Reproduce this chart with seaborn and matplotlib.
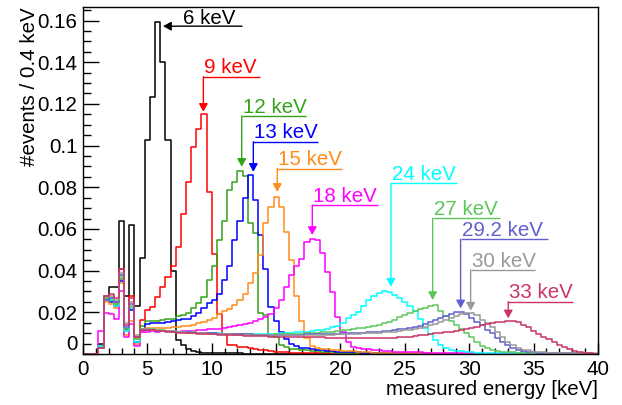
import numpy as np
import matplotlib
matplotlib.use("Agg")
import matplotlib.pyplot as plt
import seaborn as sns
from matplotlib.ticker import MultipleLocator, FixedLocator, FixedFormatter

# ---------------- data (bin contents, 0.4 keV bins from 0 to 40 keV) ----------------
bin_edges = [round(0.4 * i, 1) for i in range(101)]

h6 = [0, 0, 0, 0.005, 0.028, 0.032, 0.032, 0.064, 0.028, 0.062, 0.023, 0.046,
      0.1026, 0.1234, 0.1594, 0.140, 0.1026, 0.040, 0.0067, 0.0043, 0.0025, 0.0013, 0.0008, 0.0005,
      0.0004, 0.0003, 0.0003, 0.0003, 0.0003, 0.0003, 0.0003, 0.0002, 0.0002, 0.0002, 0.0002, 0.0002] + [0] * 64

h9 = [0, 0, 0, 0.004, 0.026, 0.026, 0.025, 0.041, 0.012, 0.028, 0.006, 0.0163,
      0.021, 0.0227, 0.0275, 0.032, 0.037, 0.042, 0.0515, 0.067, 0.0826, 0.0994, 0.108, 0.115,
      0.0777, 0.048, 0.019, 0.0095, 0.0045, 0.0042, 0.0035, 0.0033, 0.0027, 0.0025, 0.0018, 0.0017,
      0.0015, 0.0012, 0.001, 0.0009, 0.0007, 0.0006, 0.0005, 0.0004, 0.0003, 0.0003, 0.0003, 0.0003,
      0.0002, 0.0002, 0.0002, 0.0002, 0.0002, 0.0001] + [0] * 46

h12 = [0, 0, 0, 0.004, 0.027, 0.026, 0.024, 0.036, 0.011, 0.022, 0.007, 0.0135,
       0.0158, 0.016, 0.016, 0.0163, 0.0167, 0.017, 0.018, 0.0188, 0.0197, 0.022, 0.0245, 0.0275,
       0.0355, 0.042, 0.0547, 0.064, 0.0787, 0.0826, 0.0878, 0.0854, 0.063, 0.058, 0.0195, 0.0185,
       0.0085, 0.0082, 0.0045, 0.0032, 0.0026, 0.0024, 0.002, 0.0018, 0.0015, 0.0013, 0.0011, 0.001,
       0.0008, 0.0007, 0.0005, 0.0005, 0.0005, 0.0003, 0.0003, 0.0003, 0.0003, 0.0002, 0.0002, 0.0002,
       0.0002] + [0] * 39

h13 = [0, 0, 0, 0.004, 0.026, 0.025, 0.023, 0.035, 0.012, 0.021, 0.006, 0.012,
       0.0145, 0.015, 0.0148, 0.015, 0.0155, 0.016, 0.0165, 0.0168, 0.017, 0.018, 0.0197, 0.022,
       0.0245, 0.026, 0.029, 0.0355, 0.042, 0.0547, 0.064, 0.0748, 0.0858, 0.074, 0.057, 0.041,
       0.0227, 0.016, 0.0107, 0.007, 0.005, 0.004, 0.003, 0.0027, 0.0024, 0.002, 0.0018, 0.0015,
       0.0013, 0.0011, 0.001, 0.0008, 0.0008, 0.0008, 0.0005, 0.0005, 0.0005, 0.0005, 0.0003, 0.0003,
       0.0003, 0.0003, 0.0003, 0.0002, 0.0002, 0.0002, 0.0002] + [0] * 33

h15 = [0, 0, 0, 0.004, 0.025, 0.024, 0.022, 0.034, 0.009, 0.016, 0.005, 0.0105,
       0.0125, 0.0123, 0.0125, 0.0127, 0.0127, 0.013, 0.0132, 0.0133, 0.0135, 0.014, 0.0148, 0.0155,
       0.0165, 0.0175, 0.019, 0.0205, 0.0215, 0.0235, 0.026, 0.029, 0.034, 0.039, 0.0475, 0.063,
       0.0707, 0.0755, 0.0707, 0.0587, 0.045, 0.028, 0.016, 0.0075, 0.004, 0.003, 0.0025, 0.0022,
       0.002, 0.0018, 0.0016, 0.0015, 0.0013, 0.0012, 0.001, 0.0009, 0.0007, 0.0007, 0.0007, 0.0005,
       0.0005, 0.0005, 0.0005, 0.0003, 0.0003, 0.0003, 0.0003, 0.0003, 0.0002, 0.0002, 0.0002, 0.0002,
       0.0002] + [0] * 27

h18 = [0, 0, 0, 0.011, 0.0195, 0.019, 0.017, 0.030, 0.008, 0.0145, 0.004, 0.0107,
       0.0107, 0.011, 0.0108, 0.011, 0.0112, 0.011, 0.0108, 0.011, 0.011, 0.0112, 0.0115, 0.0115,
       0.0118, 0.012, 0.0122, 0.0127, 0.0131, 0.0135, 0.0139, 0.0144, 0.015, 0.0158, 0.0166, 0.0178,
       0.0193, 0.0222, 0.026, 0.032, 0.038, 0.042, 0.0454, 0.0539, 0.055, 0.0546, 0.0483, 0.0395,
       0.0299, 0.0179, 0.0107, 0.0059, 0.0035, 0.0028, 0.0025, 0.0022, 0.002, 0.0018, 0.0016, 0.0014,
       0.0012, 0.0011, 0.001, 0.0008, 0.0008, 0.0008, 0.0005, 0.0005, 0.0005, 0.0005, 0.0005, 0.0003,
       0.0003, 0.0003, 0.0003, 0.0003, 0.0002, 0.0002, 0.0002, 0.0002, 0.0002] + [0] * 19

h24 = [0, 0, 0, 0.004, 0.026, 0.026, 0.023, 0.038, 0.011, 0.022, 0.006, 0.0115,
       0.0115, 0.0113, 0.0112, 0.011, 0.0109, 0.0108, 0.0106, 0.0105, 0.0104, 0.0103, 0.0102, 0.0101,
       0.01, 0.01, 0.0099, 0.0098, 0.0098, 0.0097, 0.0097, 0.0096, 0.0096, 0.0096, 0.0096, 0.0097,
       0.0097, 0.0098, 0.0099, 0.01, 0.0102, 0.0104, 0.0106, 0.0108, 0.011, 0.0113, 0.0116, 0.012,
       0.0129, 0.0135, 0.0147, 0.0171, 0.0187, 0.0203, 0.023, 0.0259, 0.0278, 0.0293, 0.030, 0.0298,
       0.0285, 0.027, 0.025, 0.023, 0.0205, 0.0168, 0.0125, 0.0095, 0.0068, 0.0045, 0.003, 0.0021,
       0.0016, 0.0013, 0.001, 0.0009, 0.0007, 0.0005, 0.0005, 0.0005, 0.0005, 0.0003, 0.0003, 0.0003,
       0.0003, 0.0003, 0.0002, 0.0002, 0.0002, 0.0002, 0.0002] + [0] * 9

h27 = [0, 0, 0, 0.003, 0.027, 0.027, 0.024, 0.037, 0.012, 0.023, 0.007, 0.012,
       0.012, 0.0118, 0.0116, 0.0114, 0.0112, 0.011, 0.0108, 0.0106, 0.0105, 0.0104, 0.0102, 0.0101,
       0.01, 0.0099, 0.0098, 0.0097, 0.0096, 0.0095, 0.0095, 0.0094, 0.0094, 0.0093, 0.0093, 0.0093,
       0.0093, 0.0094, 0.0094, 0.0095, 0.0096, 0.0097, 0.0098, 0.0099, 0.01, 0.0102, 0.0104, 0.0106,
       0.0108, 0.011, 0.0113, 0.0116, 0.0119, 0.0123, 0.0127, 0.0131, 0.0136, 0.014, 0.0147, 0.0155,
       0.0163, 0.0176, 0.0187, 0.0195, 0.0205, 0.0215, 0.0222, 0.023, 0.0235, 0.0205, 0.018, 0.0158,
       0.014, 0.012, 0.0103, 0.0083, 0.006, 0.004, 0.0027, 0.002, 0.0015, 0.0012, 0.001, 0.0008,
       0.0006, 0.0004, 0.0004, 0.0004, 0.0004, 0.0002, 0.0002, 0.0002, 0.0002] + [0] * 7

h29 = [0, 0, 0, 0.003, 0.026, 0.027, 0.025, 0.038, 0.013, 0.024, 0.008, 0.0115,
       0.0115, 0.0113, 0.0112, 0.011, 0.0109, 0.0108, 0.0106, 0.0105, 0.0104, 0.0103, 0.0102, 0.0101,
       0.01, 0.0099, 0.0098, 0.0097, 0.0096, 0.0095, 0.0095, 0.0094, 0.0094, 0.0093, 0.0093, 0.0092,
       0.0092, 0.0092, 0.0092, 0.0092, 0.0092, 0.0093, 0.0093, 0.0094, 0.0094, 0.0095, 0.0095, 0.0096,
       0.0097, 0.0098, 0.0099, 0.01, 0.0101, 0.0102, 0.0103, 0.0104, 0.0106, 0.0108, 0.011, 0.0112,
       0.0115, 0.0118, 0.0122, 0.0126, 0.0131, 0.0136, 0.0145, 0.0155, 0.0165, 0.0175, 0.0183, 0.0193,
       0.0201, 0.0203, 0.019, 0.0172, 0.0155, 0.0139, 0.0115, 0.0099, 0.0075, 0.006, 0.0043, 0.0027,
       0.002, 0.0015, 0.0011, 0.0009, 0.0007, 0.0005, 0.0005, 0.0005, 0.0005, 0.0003, 0.0003, 0.0003,
       0.0003, 0.0002, 0.0002, 0.0002]

h30 = [0, 0, 0, 0.003, 0.028, 0.028, 0.026, 0.039, 0.015, 0.025, 0.009, 0.012,
       0.0118, 0.0116, 0.0114, 0.0112, 0.011, 0.0108, 0.0106, 0.0104, 0.0103, 0.0102, 0.01, 0.0099,
       0.0098, 0.0097, 0.0096, 0.0095, 0.0094, 0.0093, 0.0092, 0.0092, 0.0091, 0.0091, 0.009, 0.009,
       0.009, 0.009, 0.009, 0.009, 0.009, 0.009, 0.009, 0.0091, 0.0091, 0.0092, 0.0092, 0.0093,
       0.0093, 0.0094, 0.0095, 0.0096, 0.0097, 0.0098, 0.0099, 0.01, 0.0101, 0.0102, 0.0104, 0.0106,
       0.0108, 0.011, 0.0113, 0.0116, 0.012, 0.0125, 0.013, 0.0137, 0.0146, 0.0155, 0.0165, 0.0175,
       0.0183, 0.019, 0.0196, 0.0197, 0.0186, 0.0165, 0.015, 0.0131, 0.0108, 0.0084, 0.006, 0.0043,
       0.0028, 0.002, 0.0017, 0.0012, 0.0009, 0.0008, 0.0005, 0.0005, 0.0005, 0.0005, 0.0003, 0.0003,
       0.0003, 0.0003, 0.0003, 0.0003]

h33 = [0, 0, 0, 0.003, 0.028, 0.029, 0.027, 0.041, 0.014, 0.027, 0.008, 0.0115,
       0.0115, 0.0113, 0.0111, 0.0109, 0.0107, 0.0105, 0.0103, 0.0101, 0.01, 0.0099, 0.0097, 0.0096,
       0.0095, 0.0094, 0.0093, 0.0092, 0.0091, 0.009, 0.0089, 0.0088, 0.0087, 0.0086, 0.0086, 0.0085,
       0.0084, 0.0084, 0.0083, 0.0083, 0.0082, 0.0082, 0.0081, 0.0081, 0.008, 0.008, 0.008, 0.0079,
       0.0079, 0.0079, 0.0078, 0.0078, 0.0077, 0.0077, 0.0076, 0.0076, 0.0076, 0.0076, 0.0077, 0.0078,
       0.0079, 0.008, 0.0082, 0.0084, 0.0087, 0.009, 0.0093, 0.0096, 0.0099, 0.0102, 0.0105, 0.0108,
       0.0111, 0.0115, 0.012, 0.0126, 0.0131, 0.0138, 0.0145, 0.015, 0.0155, 0.0155, 0.0158, 0.016,
       0.0155, 0.014, 0.013, 0.011, 0.0095, 0.0082, 0.007, 0.0058, 0.0045, 0.0033, 0.0022, 0.0015,
       0.001, 0.0007, 0.0004, 0.0002]

series = [h6, h9, h12, h13, h15, h18, h24, h27, h29, h30, h33]
colors = ["#000000", "#ff0000", "#33a319", "#0000ff", "#ff8c1a", "#ff00ff",
          "#00ffff", "#5cc65c", "#5f5fd0", "#999999", "#cc3366"]

# annotations: label, vertical-arrow energy, underline height, arrow tip height, underline right end
ann_labels = ["9 keV", "12 keV", "13 keV", "15 keV", "18 keV", "24 keV",
              "27 keV", "29.2 keV", "30 keV", "33 keV"]
ann_x = [9.35, 12.33, 13.23, 15.09, 17.81, 23.92, 27.16, 29.33, 30.11, 33.03]
ann_line_y = [0.133, 0.1142, 0.1018, 0.089, 0.0715, 0.0819, 0.0651, 0.055, 0.0403, 0.0251]
ann_tip_y = [0.1162, 0.0898, 0.0874, 0.0778, 0.0571, 0.0323, 0.0259, 0.0219, 0.0208, 0.0171]
ann_x_end = [13.75, 17.32, 18.25, 20.12, 22.91, 29.05, 32.39, 36.12, 35.11, 38.06]
# 6 keV: horizontal arrow
lab6 = "6 keV"
lab6_y = 0.1573
lab6_x_start = 12.35
lab6_x_tip = 6.22
lab6_text_x = 7.77

xticks = [0, 5, 10, 15, 20, 25, 30, 35, 40]
yticks = [0, 0.02, 0.04, 0.06, 0.08, 0.10, 0.12, 0.14, 0.16]
ytick_labels = ["0", "0.02", "0.04", "0.06", "0.08", "0.1", "0.12", "0.14", "0.16"]

# ---------------- plotting ----------------
sns.set_theme(style="ticks")
plt.rcParams['font.family'] = ['Liberation Sans', 'DejaVu Sans']
FS = 14.8

fig = plt.figure(figsize=(6.22, 4.05), dpi=100)
ax = fig.add_axes([0.1334, 0.1259, 0.8280, 0.8568])

centers = [e + 0.2 for e in bin_edges[:-1]]
for vals, c in zip(series, colors):
    sns.histplot(x=centers, weights=vals, bins=bin_edges, element="step", fill=False,
                 color=c, linewidth=1.1, ax=ax)

ax.set_xlim(0, 40)
ax.set_ylim(0, 0.1665)

ax.xaxis.set_major_locator(FixedLocator(xticks))
ax.xaxis.set_minor_locator(MultipleLocator(1))
ax.yaxis.set_major_locator(FixedLocator(yticks))
ax.yaxis.set_major_formatter(FixedFormatter(ytick_labels))
ax.yaxis.set_minor_locator(MultipleLocator(0.005))
ax.tick_params(which="both", direction="in", top=False, right=False, colors="black",
               labelsize=FS, width=1.0)
ax.tick_params(axis="x", which="major", length=8, pad=4)
ax.tick_params(axis="x", which="minor", length=4.5)
ax.tick_params(axis="y", which="major", length=11.5, pad=4)
ax.tick_params(axis="y", which="minor", length=5.8)
for sp in ax.spines.values():
    sp.set_visible(True)
    sp.set_color("black")
    sp.set_linewidth(1.0)

ax.set_xlabel("measured energy [keV]", loc="right", fontsize=FS, color="black", labelpad=1)
ax.set_ylabel("#events / 0.4 keV", loc="top", fontsize=FS, color="black", labelpad=-1)

fig.canvas.draw()
ax.get_yticklabels()[0].set_va("bottom")

# annotations
ax.annotate("", xy=(lab6_x_tip, lab6_y), xytext=(lab6_x_start, lab6_y),
            arrowprops=dict(arrowstyle="-|>,head_length=0.4,head_width=0.22", color=colors[0],
                            lw=1.0, shrinkA=0, shrinkB=0, mutation_scale=12))
ax.annotate(lab6, xy=(lab6_text_x, lab6_y), xytext=(0, 1.5), textcoords="offset points",
            ha="left", va="baseline", fontsize=FS, color=colors[0])

for lab, xv, ly, ty, xe, c in zip(ann_labels, ann_x, ann_line_y, ann_tip_y, ann_x_end, colors[1:]):
    ax.plot([xv, xe], [ly, ly], color=c, lw=1.0, solid_capstyle="butt")
    ax.annotate("", xy=(xv, ty), xytext=(xv, ly),
                arrowprops=dict(arrowstyle="-|>,head_length=0.4,head_width=0.22", color=c,
                                lw=1.0, shrinkA=0, shrinkB=0, mutation_scale=12))
    ax.annotate(lab, xy=(xv, ly), xytext=(0.8, 2.5), textcoords="offset points",
                ha="left", va="baseline", fontsize=FS, color=c)

fig.savefig("out.png", dpi=100)
